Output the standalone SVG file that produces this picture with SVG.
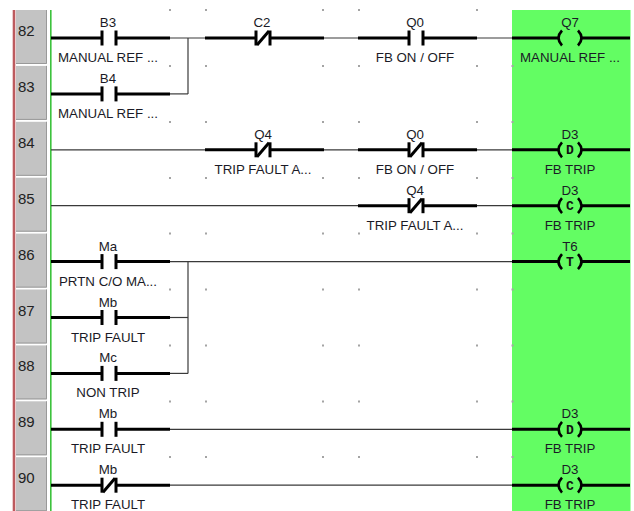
<svg xmlns="http://www.w3.org/2000/svg" xmlns:xlink="http://www.w3.org/1999/xlink" width="634" height="511" viewBox="0 0 634 511">
<style>
.thick{stroke:#000;stroke-width:3;fill:none}
.wire{stroke:#3a3a3a;stroke-width:1.2;fill:none}
.bar{fill:#000}
.arc{stroke:#000;stroke-width:2.6;fill:none}
.lbl{font-family:"Liberation Sans",Arial,sans-serif;font-size:13.3px;fill:#1a1a26;text-anchor:middle}
.num{font-family:"Liberation Sans",Arial,sans-serif;font-size:15px;fill:#222}
.cl{font-family:"Liberation Mono","DejaVu Sans Mono",monospace;font-size:13px;font-weight:bold;fill:#111;text-anchor:middle}
.dot{fill:#a4a4a4}
.cell{fill:#c3c3c3}
.shade{stroke:#999;stroke-width:1;fill:none}
</style>
<defs>
<g id="no">
<line class="thick" x1="0" y1="0" x2="50" y2="0"/>
<rect class="bar" x="49.5" y="-7.5" width="3" height="15"/>
<rect class="bar" x="63.5" y="-7.5" width="3" height="15"/>
<line class="thick" x1="66" y1="0" x2="119" y2="0"/>
</g>
<g id="nc">
<line class="thick" x1="0" y1="0" x2="50" y2="0"/>
<rect class="bar" x="49.5" y="-7.5" width="3" height="15"/>
<rect class="bar" x="63.5" y="-7.5" width="3" height="15"/>
<line class="thick" x1="52" y1="7" x2="64" y2="-7" stroke-width="2.6" stroke="#000"/>
<line class="thick" x1="66" y1="0" x2="119" y2="0"/>
</g>
<g id="coil">
<line class="thick" x1="0" y1="0" x2="46" y2="0"/>
<path class="arc" d="M50,-7.5 Q43,0 50,7.5"/>
<path class="arc" d="M66,-7.5 Q73,0 66,7.5"/>
<line class="thick" x1="70" y1="0" x2="118" y2="0"/>
</g>
</defs>
<rect width="634" height="511" fill="#fff"/>
<!-- green coil column -->
<rect x="512" y="10" width="118.5" height="501" fill="#63fd63"/>
<!-- left panel -->
<rect x="12.7" y="10" width="2.6" height="501" fill="#bd5a5e"/>
<g id="rung-numbers">
<g transform="translate(0,38)"><rect class="cell" x="16" y="-28" width="31" height="54"/><path class="shade" d="M46.5,-28V25.5H16"/><text class="num" x="18" y="-2">82</text></g>
<g transform="translate(0,93.9)"><rect class="cell" x="16" y="-28" width="31" height="54"/><path class="shade" d="M46.5,-28V25.5H16"/><text class="num" x="18" y="-2">83</text></g>
<g transform="translate(0,149.8)"><rect class="cell" x="16" y="-28" width="31" height="54"/><path class="shade" d="M46.5,-28V25.5H16"/><text class="num" x="18" y="-2">84</text></g>
<g transform="translate(0,205.7)"><rect class="cell" x="16" y="-28" width="31" height="54"/><path class="shade" d="M46.5,-28V25.5H16"/><text class="num" x="18" y="-2">85</text></g>
<g transform="translate(0,261.6)"><rect class="cell" x="16" y="-28" width="31" height="54"/><path class="shade" d="M46.5,-28V25.5H16"/><text class="num" x="18" y="-2">86</text></g>
<g transform="translate(0,317.5)"><rect class="cell" x="16" y="-28" width="31" height="54"/><path class="shade" d="M46.5,-28V25.5H16"/><text class="num" x="18" y="-2">87</text></g>
<g transform="translate(0,373.4)"><rect class="cell" x="16" y="-28" width="31" height="54"/><path class="shade" d="M46.5,-28V25.5H16"/><text class="num" x="18" y="-2">88</text></g>
<g transform="translate(0,429.3)"><rect class="cell" x="16" y="-28" width="31" height="54"/><path class="shade" d="M46.5,-28V25.5H16"/><text class="num" x="18" y="-2">89</text></g>
<g transform="translate(0,485.2)"><rect class="cell" x="16" y="-28" width="31" height="54"/><path class="shade" d="M46.5,-28V25.5H16"/><text class="num" x="18" y="-2">90</text></g>
</g>
<!-- left rail -->
<rect x="50" y="10" width="1.6" height="501" fill="#3cc23c"/>
<!-- grid dots -->
<g id="grid" class="dot">
<rect x="169" y="9" width="2" height="2"/><rect x="205" y="9" width="2" height="2"/><rect x="322" y="9" width="2" height="2"/><rect x="358" y="9" width="2" height="2"/><rect x="476" y="9" width="2" height="2"/>
<rect x="169" y="65" width="2" height="2"/><rect x="205" y="65" width="2" height="2"/><rect x="322" y="65" width="2" height="2"/><rect x="358" y="65" width="2" height="2"/><rect x="476" y="65" width="2" height="2"/><rect x="511.5" y="65" width="2" height="2"/>
<rect x="169" y="121" width="2" height="2"/><rect x="205" y="121" width="2" height="2"/><rect x="322" y="121" width="2" height="2"/><rect x="358" y="121" width="2" height="2"/><rect x="476" y="121" width="2" height="2"/><rect x="511.5" y="121" width="2" height="2"/>
<rect x="169" y="177" width="2" height="2"/><rect x="205" y="177" width="2" height="2"/><rect x="322" y="177" width="2" height="2"/><rect x="358" y="177" width="2" height="2"/><rect x="476" y="177" width="2" height="2"/><rect x="511.5" y="177" width="2" height="2"/>
<rect x="169" y="232.5" width="2" height="2"/><rect x="205" y="232.5" width="2" height="2"/><rect x="322" y="232.5" width="2" height="2"/><rect x="358" y="232.5" width="2" height="2"/><rect x="476" y="232.5" width="2" height="2"/><rect x="511.5" y="232.5" width="2" height="2"/>
<rect x="169" y="288.5" width="2" height="2"/><rect x="205" y="288.5" width="2" height="2"/><rect x="322" y="288.5" width="2" height="2"/><rect x="358" y="288.5" width="2" height="2"/><rect x="476" y="288.5" width="2" height="2"/><rect x="511.5" y="288.5" width="2" height="2"/>
<rect x="169" y="344.5" width="2" height="2"/><rect x="205" y="344.5" width="2" height="2"/><rect x="322" y="344.5" width="2" height="2"/><rect x="358" y="344.5" width="2" height="2"/><rect x="476" y="344.5" width="2" height="2"/><rect x="511.5" y="344.5" width="2" height="2"/>
<rect x="169" y="400.5" width="2" height="2"/><rect x="205" y="400.5" width="2" height="2"/><rect x="322" y="400.5" width="2" height="2"/><rect x="358" y="400.5" width="2" height="2"/><rect x="476" y="400.5" width="2" height="2"/><rect x="511.5" y="400.5" width="2" height="2"/>
<rect x="169" y="456" width="2" height="2"/><rect x="205" y="456" width="2" height="2"/><rect x="322" y="456" width="2" height="2"/><rect x="358" y="456" width="2" height="2"/><rect x="476" y="456" width="2" height="2"/><rect x="511.5" y="456" width="2" height="2"/>
</g>
<!-- connectors -->
<g id="connectors" class="wire">
<line x1="170" y1="38" x2="206" y2="38"/>
<line x1="188" y1="38" x2="188" y2="93.9"/>
<line x1="170" y1="93.9" x2="188" y2="93.9"/>
<line x1="323" y1="38" x2="359" y2="38"/>
<line x1="476" y1="38" x2="512" y2="38"/>
<line x1="51" y1="149.8" x2="206" y2="149.8"/>
<line x1="323" y1="149.8" x2="359" y2="149.8"/>
<line x1="476" y1="149.8" x2="512" y2="149.8"/>
<line x1="51" y1="205.7" x2="359" y2="205.7"/>
<line x1="476" y1="205.7" x2="512" y2="205.7"/>
<line x1="170" y1="261.6" x2="512" y2="261.6"/>
<line x1="188" y1="261.6" x2="188" y2="373.4"/>
<line x1="170" y1="317.5" x2="188" y2="317.5"/>
<line x1="170" y1="373.4" x2="188" y2="373.4"/>
<line x1="170" y1="429.3" x2="512" y2="429.3"/>
<line x1="170" y1="485.2" x2="512" y2="485.2"/>
</g>
<!-- rung 82 -->
<g id="r82-B3" transform="translate(51,38)"><use xlink:href="#no"/><text class="lbl" x="57" y="-11">B3</text><text class="lbl" x="57" y="24">MANUAL REF ...</text></g>
<g id="r82-C2" transform="translate(205,38)"><use xlink:href="#nc"/><text class="lbl" x="57" y="-11">C2</text></g>
<g id="r82-Q0" transform="translate(358,38)"><use xlink:href="#no"/><text class="lbl" x="57" y="-11">Q0</text><text class="lbl" x="57" y="24">FB ON / OFF</text></g>
<g id="r82-Q7" transform="translate(512,38)"><use xlink:href="#coil"/><text class="lbl" x="58" y="-11">Q7</text><text class="lbl" x="58" y="24">MANUAL REF ...</text></g>
<!-- rung 83 -->
<g id="r83-B4" transform="translate(51,93.9)"><use xlink:href="#no"/><text class="lbl" x="57" y="-11">B4</text><text class="lbl" x="57" y="24">MANUAL REF ...</text></g>
<!-- rung 84 -->
<g id="r84-Q4" transform="translate(205,149.8)"><use xlink:href="#nc"/><text class="lbl" x="58" y="-11">Q4</text><text class="lbl" x="58" y="24">TRIP FAULT A...</text></g>
<g id="r84-Q0" transform="translate(358,149.8)"><use xlink:href="#nc"/><text class="lbl" x="57" y="-11">Q0</text><text class="lbl" x="57" y="24">FB ON / OFF</text></g>
<g id="r84-D3" transform="translate(512,149.8)"><use xlink:href="#coil"/><text class="cl" x="58" y="4.5">D</text><text class="lbl" x="58" y="-11">D3</text><text class="lbl" x="58" y="24">FB TRIP</text></g>
<!-- rung 85 -->
<g id="r85-Q4" transform="translate(358,205.7)"><use xlink:href="#nc"/><text class="lbl" x="57" y="-11">Q4</text><text class="lbl" x="57" y="24">TRIP FAULT A...</text></g>
<g id="r85-D3" transform="translate(512,205.7)"><use xlink:href="#coil"/><text class="cl" x="58" y="4.5">C</text><text class="lbl" x="58" y="-11">D3</text><text class="lbl" x="58" y="24">FB TRIP</text></g>
<!-- rung 86 -->
<g id="r86-Ma" transform="translate(51,261.6)"><use xlink:href="#no"/><text class="lbl" x="57" y="-11">Ma</text><text class="lbl" x="57" y="24">PRTN C/O MA...</text></g>
<g id="r86-T6" transform="translate(512,261.6)"><use xlink:href="#coil"/><text class="cl" x="58" y="4.5">T</text><text class="lbl" x="58" y="-11">T6</text></g>
<!-- rung 87 -->
<g id="r87-Mb" transform="translate(51,317.5)"><use xlink:href="#no"/><text class="lbl" x="57" y="-11">Mb</text><text class="lbl" x="57" y="24">TRIP FAULT</text></g>
<!-- rung 88 -->
<g id="r88-Mc" transform="translate(51,373.4)"><use xlink:href="#no"/><text class="lbl" x="57" y="-11">Mc</text><text class="lbl" x="57" y="24">NON TRIP</text></g>
<!-- rung 89 -->
<g id="r89-Mb" transform="translate(51,429.3)"><use xlink:href="#no"/><text class="lbl" x="57" y="-11">Mb</text><text class="lbl" x="57" y="24">TRIP FAULT</text></g>
<g id="r89-D3" transform="translate(512,429.3)"><use xlink:href="#coil"/><text class="cl" x="58" y="4.5">D</text><text class="lbl" x="58" y="-11">D3</text><text class="lbl" x="58" y="24">FB TRIP</text></g>
<!-- rung 90 -->
<g id="r90-Mb" transform="translate(51,485.2)"><use xlink:href="#nc"/><text class="lbl" x="57" y="-11">Mb</text><text class="lbl" x="57" y="24">TRIP FAULT</text></g>
<g id="r90-D3" transform="translate(512,485.2)"><use xlink:href="#coil"/><text class="cl" x="58" y="4.5">C</text><text class="lbl" x="58" y="-11">D3</text><text class="lbl" x="58" y="24">FB TRIP</text></g>
</svg>
